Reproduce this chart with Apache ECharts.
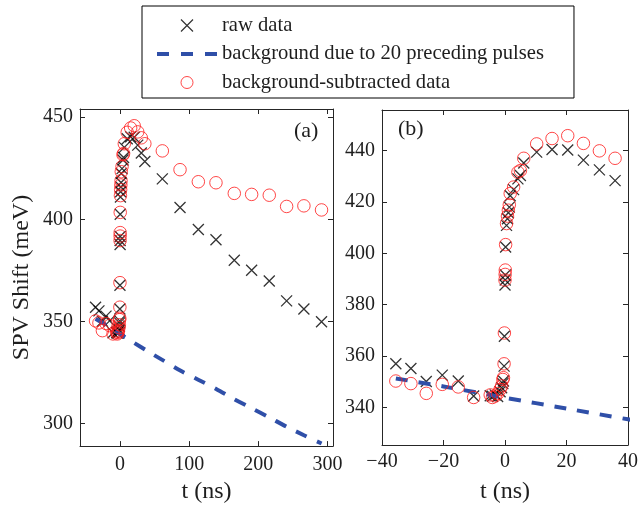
<!DOCTYPE html>
<html><head><meta charset="utf-8">
<script src="https://cdn.jsdelivr.net/npm/echarts@6/dist/echarts.min.js"></script>
<style>html,body{margin:0;padding:0;background:#fff}#c{width:641px;height:509px}</style>
</head><body><div id="c"></div>
<script>
// ---- data ----
const timeNs = [-35.5, -30.6, -25.6, -20.4, -15.2, -10.2, -4.8, -4.1, -3.2, -2.4, -1.6, -1.1, -0.7, -0.5, -0.3, -0.2,
  0.0, 0.05, 0.1, 0.2, 0.5, 0.8, 1.1, 1.4, 1.7, 2.8, 4.2, 5.0, 6.1,
  10.3, 15.3, 20.4, 25.5, 30.7, 35.8,
  61.1, 86.7, 113.2, 138.7, 165.2, 190.3, 215.8, 240.9, 265.9, 291.4];
const rawData = [357.0, 355.2, 350.1, 352.6, 350.3, 344.5, 344.6, 344.4, 344.9, 344.3, 346.1, 347.7, 349.3, 350.3, 356.1, 367.7,
  387.7, 389.6, 391.6, 402.5, 410.9, 413.5, 415.8, 418.0, 422.4, 424.8, 429.0, 430.3, 435.2,
  439.4, 440.4, 440.2, 436.3, 432.5, 428.3,
  419.8, 405.8, 395.0, 390.0, 380.0, 375.1, 369.8, 360.1, 356.1, 349.9];
const subtractedData = [350.3, 349.3, 345.5, 349.0, 348.0, 343.9, 344.9, 343.9, 344.5, 345.4, 347.0, 348.4, 350.9, 351.6, 357.0, 369.0,
  389.6, 391.8, 393.5, 403.4, 411.6, 414.5, 416.8, 418.9, 423.3, 425.8, 431.6, 432.2, 437.0,
  442.6, 444.7, 445.8, 442.8, 439.9, 437.0,
  433.5, 424.3, 418.4, 417.9, 412.7, 412.2, 411.8, 406.3, 406.6, 404.6];
const bgTimeNs = [-35.5, -20, 0, 20, 40, 61, 87, 113, 139, 165, 190, 216, 241, 266, 291.5];
const bgValues = [351.3, 348.2, 343.8, 339.6, 335.4, 331.2, 326.0, 321.5, 317.0, 312.0, 307.6, 303.0, 298.5, 294.3, 290.3];
const seriesNames = ['raw data', 'background due to 20 preceding pulses', 'background-subtracted data'];
const panelAXTicks = [0, 100, 200, 300];
const panelAYTicks = [300, 350, 400, 450];
const panelBXTicks = [-40, -20, 0, 20, 40];
const panelBYTicks = [340, 360, 380, 400, 420, 440];
const panelLabels = ['(a)', '(b)'];
const xTitle = 't (ns)';
const yTitle = 'SPV Shift (meV)';

// ---- chart ----
const FONT = '"Liberation Serif", "Times New Roman", serif';
const TXT = '#1e1e1e';
const AX = '#262626';
const BLUE = '#2f4fa8';
const chart = echarts.init(document.getElementById('c'), null, {renderer: 'canvas'});
const fmt = v => String(v).replace('-', '\u2212');

function xAxes(grid, min, max, ticks, labelMargin, titleGap) {
  const base = {type: 'value', gridIndex: grid, min: min, max: max, splitLine: {show: false},
    axisLine: {show: true, onZero: false, lineStyle: {color: AX, width: 1}},
    axisTick: {show: true, inside: true, length: 5, customValues: ticks, lineStyle: {color: AX}}};
  return [
    Object.assign({}, base, {position: 'bottom',
      axisLabel: {customValues: ticks, formatter: fmt, margin: labelMargin, fontFamily: FONT, fontSize: 20, color: TXT},
      name: xTitle, nameLocation: 'middle', nameGap: titleGap,
      nameTextStyle: {fontFamily: FONT, fontSize: 24, color: TXT}}),
    Object.assign({}, base, {position: 'top', axisLabel: {show: false}})
  ];
}
function yAxes(grid, min, max, ticks, withName) {
  const base = {type: 'value', gridIndex: grid, min: min, max: max, splitLine: {show: false},
    axisLine: {show: true, onZero: false, lineStyle: {color: AX, width: 1}},
    axisTick: {show: true, inside: true, length: 5, customValues: ticks, lineStyle: {color: AX}}};
  const left = Object.assign({}, base, {position: 'left',
    axisLabel: {customValues: ticks, formatter: fmt, margin: 7, fontFamily: FONT, fontSize: 20, color: TXT}});
  if (withName) Object.assign(left, {name: yTitle, nameLocation: 'middle', nameGap: 46,
    nameTextStyle: {fontFamily: FONT, fontSize: 24, color: TXT}});
  return [left, Object.assign({}, base, {position: 'right', axisLabel: {show: false}})];
}

const crossPath = 'path://M0,0L10,10M10,0L0,10';
const rawPts = timeNs.map((t, i) => [t, rawData[i]]);
const subPts = timeNs.map((t, i) => [t, subtractedData[i]]);
const bgPts = bgTimeNs.map((t, i) => [t, bgValues[i]]);

const series = [];
[0, 1].forEach(g => {
  series.push({name: seriesNames[0], type: 'scatter', xAxisIndex: 2 * g, yAxisIndex: 2 * g, data: rawPts,
    symbol: crossPath, symbolSize: 11, z: 2,
    itemStyle: {color: 'rgba(0,0,0,0)', borderColor: '#000', borderWidth: 1.3}});
  series.push({name: seriesNames[1], type: 'line', xAxisIndex: 2 * g, yAxisIndex: 2 * g, data: bgPts,
    symbol: 'none', showSymbol: false, smooth: 0.3, z: 3, clip: true,
    itemStyle: {color: BLUE},
    lineStyle: {color: BLUE, width: 4, type: [12, 11]}});
  series.push({name: seriesNames[2], type: 'scatter', xAxisIndex: 2 * g, yAxisIndex: 2 * g, data: subPts,
    symbol: 'circle', symbolSize: 12.5, z: 4,
    itemStyle: {color: 'rgba(0,0,0,0)', borderColor: '#ff1a1a', borderWidth: 1}});
});

const option = {
  backgroundColor: '#fff',
  animation: false,
  grid: [
    {left: 80, top: 109, width: 253, height: 341},
    {left: 382, top: 110, width: 251, height: 338}
  ],
  xAxis: [].concat(xAxes(0, -58, 308, panelAXTicks, 9, 33), xAxes(1, -40, 40, panelBXTicks, 7, 35)),
  yAxis: [].concat(yAxes(0, 289, 454, panelAYTicks, true), yAxes(1, 325.4, 455.8, panelBYTicks, false)),
  legend: {
    left: 142, top: 6, orient: 'vertical', selectedMode: false,
    data: [
      {name: seriesNames[0], itemStyle: {borderWidth: 1.2}},
      {name: seriesNames[1], itemStyle: {color: 'rgba(0,0,0,0)', borderWidth: 0, opacity: 0},
        lineStyle: {width: 4, type: [12, 12]}},
      {name: seriesNames[2], itemStyle: {borderWidth: 1}}
    ],
    itemWidth: 60, itemHeight: 12, itemGap: 7.5, padding: [9, 30, 5, 13],
    borderColor: '#000', borderWidth: 1, backgroundColor: '#fff',
    textStyle: {fontFamily: FONT, fontSize: 20.6, color: TXT}
  },
  graphic: [
    {type: 'text', left: 294, top: 120, style: {text: panelLabels[0], font: '22px ' + FONT, fill: TXT}},
    {type: 'text', left: 398, top: 118, style: {text: panelLabels[1], font: '22px ' + FONT, fill: TXT}}
  ],
  series: series
};
chart.setOption(option);
</script>
</body></html>
